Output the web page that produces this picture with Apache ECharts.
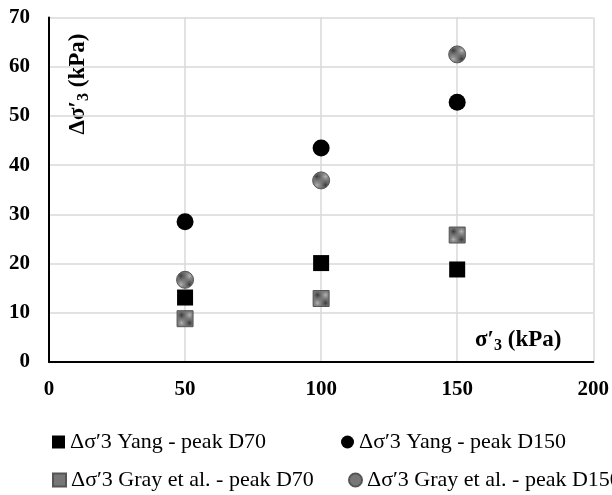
<!DOCTYPE html>
<html><head><meta charset="utf-8">
<script src="https://cdn.jsdelivr.net/npm/echarts@6/dist/echarts.min.js"></script>
<style>html,body{margin:0;padding:0;background:#fff}#c{width:612px;height:495px}</style>
</head><body><div id="c"></div>
<script>
const xValues = [50, 100, 150];
const yangD70 = [13.1, 20.1, 18.8];
const yangD150 = [28.5, 43.5, 52.8];
const grayD70 = [8.8, 12.9, 25.8];
const grayD150 = [16.7, 36.9, 62.5];
const xTicks = [0, 50, 100, 150, 200];
const yTicks = [0, 10, 20, 30, 40, 50, 60, 70];
const names = ["Δσ′3 Yang - peak D70", "Δσ′3 Yang - peak D150", "Δσ′3 Gray et al. - peak D70", "Δσ′3 Gray et al. - peak D150"];

const cv = document.createElement('canvas');
cv.width = 2; cv.height = 2;
const cx = cv.getContext('2d');
cx.fillStyle = '#b4b4b4'; cx.fillRect(0,0,2,2);
cx.fillStyle = '#3a3a3a'; cx.fillRect(0,0,1,1); cx.fillRect(1,1,1,1);
const pat = {image: cv, repeat: 'repeat'};

const pts = arr => xValues.map((x,i)=>[x, arr[i]]);
const serif = "'Liberation Serif', 'DejaVu Serif', serif";

const chart = echarts.init(document.getElementById('c'));
const legendBase = {itemWidth: 13, itemHeight: 13, itemGap: 4, textStyle: {fontFamily: serif, fontSize: 22, color: '#000'}, padding: 0};
const nameRich = {a: {fontFamily: serif, fontWeight: 'bold', fontSize: 23}, s: {fontFamily: serif, fontWeight: 'bold', fontSize: 16, padding: [12,0,0,0]}};
chart.setOption({
  animation: false,
  grid: {left: 49, right: 18, top: 17.5, bottom: 133},
  xAxis: {type: 'value', min: 0, max: 200, interval: 50,
    axisLine: {lineStyle: {color: '#000', width: 2}}, axisTick: {show: false},
    splitLine: {show: true, lineStyle: {color: '#d9d9d9', width: 1.5}},
    axisLabel: {margin: 17, fontFamily: serif, fontWeight: 'bold', fontSize: 21, color: '#000',
      formatter: v => xTicks.includes(v) ? String(v) : ''}},
  yAxis: {type: 'value', min: 0, max: 70, interval: 10,
    axisLine: {show: true, lineStyle: {color: '#000', width: 2}}, axisTick: {show: false},
    splitLine: {show: true, lineStyle: {color: '#d9d9d9', width: 1.5}},
    axisLabel: {margin: 19, fontFamily: serif, fontWeight: 'bold', fontSize: 21, color: '#000',
      formatter: v => yTicks.includes(v) ? String(v) : ''}},
  legend: [
    Object.assign({}, legendBase, {data: [{name: names[0], icon: 'rect'}], left: 52, top: 431}),
    Object.assign({}, legendBase, {data: [{name: names[1], icon: 'circle'}], left: 341, top: 431}),
    Object.assign({}, legendBase, {data: [{name: names[2], icon: 'rect'}], left: 52, top: 469}),
    Object.assign({}, legendBase, {data: [{name: names[3], icon: 'circle'}], left: 348, top: 469})
  ],
  series: [
    {name: names[0], type: 'scatter', symbol: 'rect', symbolSize: 16, data: pts(yangD70), itemStyle: {color: '#000', opacity: 1}},
    {name: names[1], type: 'scatter', symbol: 'circle', symbolSize: 17, data: pts(yangD150), itemStyle: {color: '#000', opacity: 1}},
    {name: names[2], type: 'scatter', symbol: 'rect', symbolSize: 16, data: pts(grayD70), itemStyle: {color: pat, borderColor: '#555', borderWidth: 1, opacity: 1}},
    {name: names[3], type: 'scatter', symbol: 'circle', symbolSize: 17, data: pts(grayD150), itemStyle: {color: pat, borderColor: '#555', borderWidth: 1, opacity: 1}}
  ],
  graphic: [
    {type: 'text', x: 78, y: 84, rotation: Math.PI/2,
      style: {text: '{a|Δσ′}{s|3}{a| (kPa)}', fill: '#000', align: 'center', verticalAlign: 'middle', rich: nameRich}},
    {type: 'text', x: 475, y: 340,
      style: {text: '{a|σ′}{s|3}{a| (kPa)}', fill: '#000', verticalAlign: 'middle', rich: nameRich}}
  ]
});
</script></body></html>
